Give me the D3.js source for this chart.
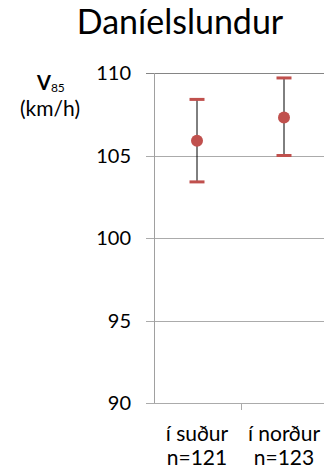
<!DOCTYPE html>
<html>
<head>
<meta charset="utf-8">
<script src="https://cdn.jsdelivr.net/npm/d3@7"></script>
<style>
  html, body { margin: 0; padding: 0; background: #fff; }
  svg { display: block; font-family: Lato, "Open Sans", sans-serif; }
</style>
</head>
<body>
<svg id="chart" width="324" height="470"></svg>
<script>
// Speed (V85) per direction with its confidence interval
const categories = ["í suður", "í norður"];
const counts = ["n=121", "n=123"];
const v85 = [105.9, 107.3];
const lower = [103.4, 105.0];
const upper = [108.4, 109.7];
const yTicks = [90, 95, 100, 105, 110];

const svg = d3.select("#chart");
const red = "#C0504D";

const x = d3.scaleBand().domain(categories).range([153.5, 327.5]).padding(0);
const y = d3.scaleLinear().domain([90, 110]).range([403, 73]);

// Title
svg.append("text")
  .attr("x", 180).attr("y", 34)
  .attr("text-anchor", "middle")
  .attr("font-size", 34)
  .attr("fill", "#000")
  .text("Daníelslundur");

// Axis title
const yt = svg.append("text").attr("x", 37).attr("y", 90).attr("fill", "#000");
yt.append("tspan").attr("font-weight", "bold").attr("font-size", 20).text("V");
yt.append("tspan").attr("font-size", 12).attr("dy", 2).text("85");
svg.append("text")
  .attr("x", 50).attr("y", 116)
  .attr("text-anchor", "middle")
  .attr("font-size", 21)
  .attr("fill", "#000")
  .text("(km/h)");

// Gridlines with ticks to the left of the axis
const grid = svg.append("g");
grid.selectAll("line").data(yTicks).join("line")
  .attr("x1", 146).attr("x2", 324)
  .attr("y1", d => Math.round(y(d)) + 0.5)
  .attr("y2", d => Math.round(y(d)) + 0.5)
  .attr("stroke", d => d === 110 ? "#858585" : "#ababab")
  .attr("stroke-width", 1);

// Y tick labels
svg.append("g").selectAll("text").data(yTicks).join("text")
  .attr("x", 131).attr("y", d => y(d))
  .attr("dy", "0.35em")
  .attr("text-anchor", "end")
  .attr("font-size", 20)
  .attr("fill", "#000")
  .text(d => d);

// Left axis line
svg.append("line")
  .attr("x1", 154.5).attr("x2", 154.5)
  .attr("y1", y(110)).attr("y2", y(90))
  .attr("stroke", "#a0a0a0");

// Category tick between the two bands
svg.append("line")
  .attr("x1", Math.round(x(categories[1])) + 0.5)
  .attr("x2", Math.round(x(categories[1])) + 0.5)
  .attr("y1", y(90)).attr("y2", y(90) + 7)
  .attr("stroke", "#ababab");

// Category labels
const cl = svg.append("g").selectAll("text").data(categories).join("text")
  .attr("x", d => x(d) + x.bandwidth() / 2)
  .attr("text-anchor", "middle")
  .attr("font-size", 21)
  .attr("fill", "#000");
cl.append("tspan").attr("x", d => x(d) + x.bandwidth() / 2).attr("y", 441).text(d => d);
cl.append("tspan").attr("x", d => x(d) + x.bandwidth() / 2).attr("y", 465).text((d, i) => counts[i]);

// Error bars
const data = categories.map((c, i) => ({ c, v: v85[i], lo: lower[i], hi: upper[i] }));
const g = svg.append("g");
g.selectAll("line.stem").data(data).join("line")
  .attr("class", "stem")
  .attr("x1", d => x(d.c) + x.bandwidth() / 2)
  .attr("x2", d => x(d.c) + x.bandwidth() / 2)
  .attr("y1", d => y(d.hi)).attr("y2", d => y(d.lo))
  .attr("stroke", "#000").attr("stroke-width", 1);
["hi", "lo"].forEach(k => {
  g.selectAll("line.cap-" + k).data(data).join("line")
    .attr("class", "cap-" + k)
    .attr("x1", d => x(d.c) + x.bandwidth() / 2 - 7.5)
    .attr("x2", d => x(d.c) + x.bandwidth() / 2 + 7.5)
    .attr("y1", d => y(d[k])).attr("y2", d => y(d[k]))
    .attr("stroke", red).attr("stroke-width", 3);
});
g.selectAll("circle").data(data).join("circle")
  .attr("cx", d => x(d.c) + x.bandwidth() / 2)
  .attr("cy", d => y(d.v))
  .attr("r", 6)
  .attr("fill", red);
</script>
</body>
</html>
